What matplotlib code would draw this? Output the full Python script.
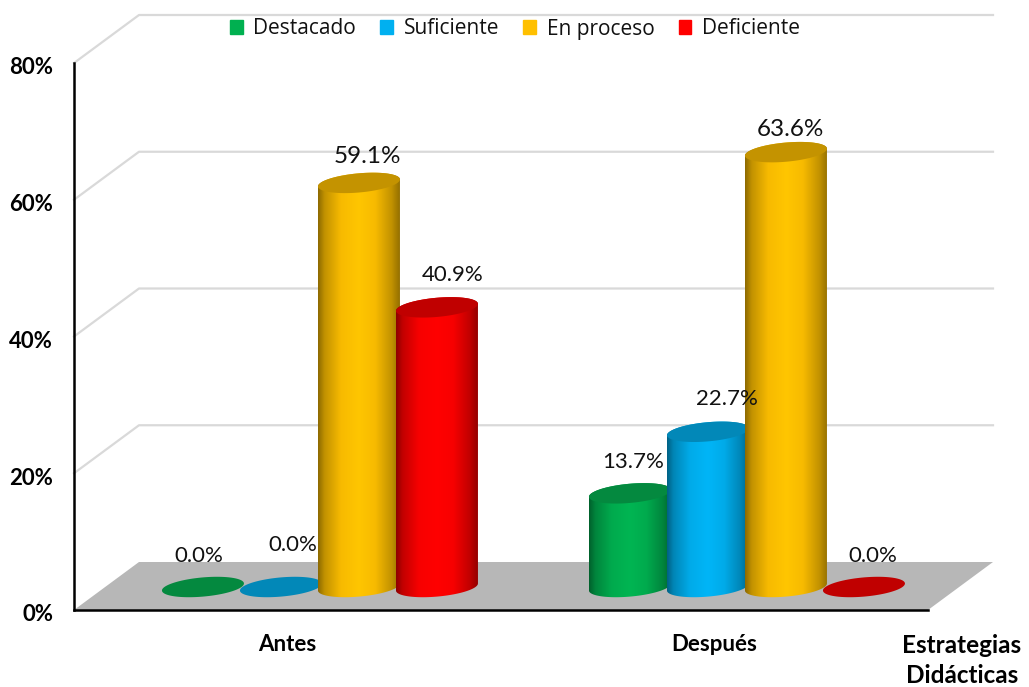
import matplotlib
matplotlib.use("Agg")
import matplotlib.pyplot as plt
import numpy as np
from matplotlib.colors import LinearSegmentedColormap, to_rgb
from matplotlib.patches import PathPatch, Patch
from matplotlib.path import Path
from matplotlib.transforms import ScaledTranslation

categories = ["Antes", "Después"]
series_names = ["Destacado", "Suficiente", "En proceso", "Deficiente"]
destacado = [0.0, 13.7]
suficiente = [0.0, 22.7]
en_proceso = [59.1, 63.6]
deficiente = [40.9, 0.0]
y_ticks = [0, 20, 40, 60, 80]
y_tick_labels = ["0%", "20%", "40%", "60%", "80%"]

series_values = [destacado, suficiente, en_proceso, deficiente]
colors = ["#00B050", "#00B0F0", "#FFC000", "#FF0000"]
top_colors = ["#04893F", "#0288B8", "#C49300", "#C00000"]

# desplazamiento en pixeles de cada etiqueta respecto al centro de la tapa
label_offsets = [
    [(-4, 31), (3, 31)],
    [(12, 42), (19, 33)],
    [(8, 26), (4, 23)],
    [(16, 32), (9, 31)],
]
label_sizes = [16, 16, 17.5, 16]

W, H = 1029, 687
LEFT, RIGHT, Y0, Y80 = 74, 928, 610, 63
px_x = 2.0 / (RIGHT - LEFT)
px_y = 80.0 / (Y0 - Y80)

# falsa perspectiva, en unidades de datos
WALL_DX, WALL_DY = 65 * px_x, 48 * px_y
BAR_DX, BAR_DY = 0.076, 23 * px_y
STEP = 78 * px_x
HALF_W = 41 * px_x
CAP_B, CAP_K = 9.6 * px_y, 3.5 * px_y

plt.rcParams["font.family"] = ["Lato", "DejaVu Sans"]

fig = plt.figure(figsize=(W / 100, H / 100), dpi=100)
ax = fig.add_axes([LEFT / W, 1 - Y0 / H, (RIGHT - LEFT) / W, (Y0 - Y80) / H])


def ellipse(cx, cy, t):
    return (cx + HALF_W * np.cos(t), cy + CAP_B * np.sin(t) + CAP_K * np.cos(t))


def shade(color):
    r, g, b = to_rgb(color)
    nodes = [(0, 0.55), (0.08, 0.76), (0.28, 0.97), (0.5, 1.03), (0.7, 0.97), (0.9, 0.76), (1, 0.58)]
    return LinearSegmentedColormap.from_list(
        "c", [(p, tuple(min(1, c * f) for c in (r, g, b))) for p, f in nodes]
    )


def cylinder(x, value, color, top_color, z):
    base = BAR_DY
    top = BAR_DY + value
    t = np.linspace(0, 2 * np.pi, 121)
    if value > 0:
        lx, ly = ellipse(x, base, np.linspace(np.pi, 2 * np.pi, 61))
        ux, uy = ellipse(x, top, np.linspace(0, np.pi, 61))
        verts = np.column_stack([np.r_[lx, ux], np.r_[ly, uy]])
        body = PathPatch(Path(np.vstack([verts, verts[0]])), transform=ax.transData, fc="none", ec="none")
        ax.add_patch(body)
        im = ax.imshow(
            np.linspace(0, 1, 256).reshape(1, -1),
            cmap=shade(color),
            extent=[x - HALF_W, x + HALF_W, base - CAP_B * 2, top + CAP_B * 2],
            aspect="auto",
            zorder=z,
            interpolation="bilinear",
        )
        im.set_clip_path(body)
    ex, ey = ellipse(x, top, t)
    ax.fill(ex, ey, color=top_color, lw=0, zorder=z + 0.5)


# paredes y piso
for v in y_ticks[1:]:
    ax.plot(
        [-0.5, -0.5 + WALL_DX, 1.5 + WALL_DX],
        [v, v + WALL_DY, v + WALL_DY],
        color="#D9D9D9", lw=1.6, clip_on=False, zorder=1,
    )
ax.fill(
    [-0.5, -0.5 + WALL_DX, 1.5 + WALL_DX, 1.5],
    [0, WALL_DY, WALL_DY, 0],
    color="#B7B7B7", lw=0, clip_on=False, zorder=1.5,
)

# cilindros
for c in range(len(categories)):
    for i, values in enumerate(series_values):
        x = c + BAR_DX + (i - 1.5) * STEP
        cylinder(x, values[c], colors[i], top_colors[i], 3 + c * 10 + i)
        dx, dy = label_offsets[i][c]
        ax.annotate(
            f"{values[c]:.1f}%",
            (x, BAR_DY + values[c]),
            xytext=(dx * 0.72, dy * 0.72),
            textcoords="offset points",
            ha="center", va="center",
            fontsize=label_sizes[i] if values[c] > 0 else 16,
            color="#111111", zorder=40, annotation_clip=False,
        )

ax.set_xlim(-0.5, 1.5)
ax.set_ylim(0, 80)
ax.patch.set_alpha(0)
for s in ["top", "right"]:
    ax.spines[s].set_visible(False)
for s in ["left", "bottom"]:
    ax.spines[s].set_linewidth(1.8)
    ax.spines[s].set_color("black")
    ax.spines[s].set_zorder(30)
ax.set_xticks(range(len(categories)), categories, fontsize=16, fontweight="bold")
ax.set_yticks(y_ticks, y_tick_labels, fontsize=16, fontweight="bold")
ax.tick_params(axis="both", length=0)
ax.tick_params(axis="y", pad=15)
ax.tick_params(axis="x", pad=17)
for lab in ax.get_yticklabels():
    lab.set_transform(lab.get_transform() + ScaledTranslation(0, -2 / 72, fig.dpi_scale_trans))

ax.text(
    1.5 + 34 * px_x, -24 * px_y, "Estrategias\nDidácticas",
    ha="center", va="top",
    fontsize=17.5, fontweight="bold", linespacing=1.38, clip_on=False,
)

handles = [Patch(color=c, label=n) for c, n in zip(colors, series_names)]
fig.legend(
    handles=handles, ncol=4, frameon=False, loc="center",
    bbox_to_anchor=(515 / W, 1 - 29 / H),
    prop={"family": ["Open Sans", "DejaVu Sans"], "size": 15},
    handlelength=0.62, handleheight=0.62, handletextpad=0.5, columnspacing=1.16,
    labelcolor="#111111",
)

fig.savefig("out.png", dpi=100)
